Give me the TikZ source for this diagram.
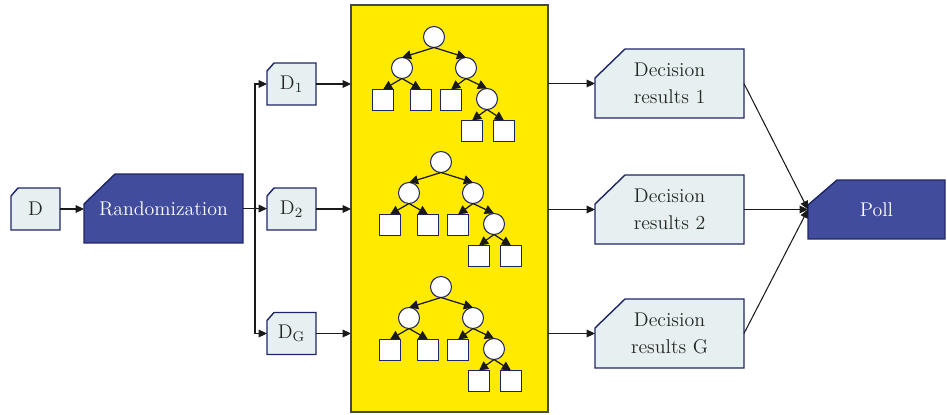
\documentclass[tikz,border=0pt]{standalone}
\usetikzlibrary{arrows.meta,calc,backgrounds}
\definecolor{navy}{HTML}{1E2566}
\definecolor{dfill}{HTML}{414C9C}
\definecolor{lfill}{HTML}{E6F0F0}
\definecolor{ybg}{HTML}{FFEA00}
\definecolor{ink}{HTML}{1A1A1A}
\newcommand\chamf[4]{\begin{pgfonlayer}{background}\filldraw[#4] ($(#1.north west)+(0,#3)$) -- ($(#1.north west)+(#2,0)$) -- (#1.north east) -- (#1.south east) -- (#1.south west) -- cycle;\end{pgfonlayer}}
\begin{document}
\begin{tikzpicture}[x=0.02cm,y=-0.02cm, font=\fontsize{11.3}{15.3}\selectfont,
 arr/.style={draw=ink, line width=0.6pt, -{Triangle[length=4.8pt,width=4.4pt]}},
 ln/.style={draw=ink, line width=0.6pt},
 bx/.style={rectangle, inner sep=0pt, outer sep=0pt, align=center, text=black!85},
 lbox/.style={fill=lfill, draw=navy, line width=0.8pt},
 dbox/.style={fill=dfill, draw=navy, line width=0.8pt},
 tc/.style={circle, draw=navy, fill=white, line width=0.6pt, minimum size=0.42cm, inner sep=0pt, outer sep=0pt},
 ts/.style={rectangle, draw=navy, fill=white, line width=0.6pt, minimum size=0.42cm, inner sep=0pt, outer sep=0pt},
 tarr/.style={draw=ink, line width=0.7pt, -{Triangle[length=5.2pt,width=5.2pt]}},
 tree/.pic={
  \node[tc] (-r) at (0,0) {};
  \node[tc] (-a) at (-32,31) {};
  \node[tc] (-b) at (32,31) {};
  \node[ts] (-s1) at (-51,63) {};
  \node[ts] (-s2) at (-13,63) {};
  \node[ts] (-s3) at (17,63) {};
  \node[tc] (-c) at (53,62) {};
  \node[ts] (-s4) at (38,94) {};
  \node[ts] (-s5) at (70,94) {};
  \draw[tarr] (-r.south) -- (-a.north);
  \draw[tarr] (-r.south) -- (-b.north);
  \draw[tarr] (-a.south) -- (-s1.north);
  \draw[tarr] (-a.south) -- (-s2.north);
  \draw[tarr] (-b.south) -- (-s3.north);
  \draw[tarr] (-b.south) -- (-c.north);
  \draw[tarr] (-c.south) -- (-s4.north);
  \draw[tarr] (-c.south) -- (-s5.north);
 }]
\useasboundingbox (0,0) rectangle (947,415);
% yellow panel
\node[rectangle, fill=ybg, draw=ink!80, line width=0.8pt, minimum width=3.94cm, minimum height=8.14cm, inner sep=0pt, outer sep=0pt] (yel) at (449.5,208.5) {};
% nodes
\node[bx, minimum width=0.98cm, minimum height=0.84cm] (d) at (35.5,209) {D};
\node[bx, text=white, minimum width=3.18cm, minimum height=1.38cm] (rand) at (163.5,208.5) {Randomization};
\node[bx, minimum width=0.98cm, minimum height=0.84cm] (d1) at (291.5,84) {D$_{1}$};
\node[bx, minimum width=0.98cm, minimum height=0.84cm] (d2) at (291.5,209) {D$_{2}$};
\node[bx, minimum width=0.98cm, minimum height=0.84cm] (dg) at (291.5,333.5) {D$_{\mathrm{G}}$};
\node[bx, minimum width=2.98cm, minimum height=1.38cm] (dec1) at (669.5,83.5) {Decision\\results 1};
\node[bx, minimum width=2.98cm, minimum height=1.38cm] (dec2) at (669.5,209.5) {Decision\\results 2};
\node[bx, minimum width=2.98cm, minimum height=1.38cm] (dec3) at (669.5,333.5) {Decision\\results G};
\node[bx, text=white, minimum width=2.74cm, minimum height=1.18cm] (poll) at (876.5,209.5) {Poll};
\chamf{d}{7}{8}{lbox}
\chamf{rand}{31}{30}{dbox}
\chamf{d1}{7}{8}{lbox}
\chamf{d2}{7}{8}{lbox}
\chamf{dg}{7}{8}{lbox}
\chamf{dec1}{30}{29}{lbox}
\chamf{dec2}{30}{29}{lbox}
\chamf{dec3}{30}{29}{lbox}
\chamf{poll}{29}{25}{dbox}
% trees
\pic (t1) at (434,37) {tree};
\pic (t2) at (441,162) {tree};
\pic (t3) at (441,287) {tree};
% connectors
\coordinate (split) at (255,208.5);
\draw[arr] (d) -- (d -| rand.west);
\draw[ln] (rand.east) -- (split);
\draw[arr] (split) |- (d1);
\draw[arr] (split) -- (d2);
\draw[arr] (split) |- (dg);
\draw[arr] (d1) -- (d1 -| yel.west);
\draw[arr] (d2) -- (d2 -| yel.west);
\draw[arr] (dg) -- (dg -| yel.west);
\draw[arr] (dec1 -| yel.east) -- (dec1);
\draw[arr] (dec2 -| yel.east) -- (dec2);
\draw[arr] (dec3 -| yel.east) -- (dec3);
\draw[arr] (dec1.east) -- (poll.west);
\draw[arr] (dec2.east) -- (poll.west);
\draw[arr] (dec3.east) -- (poll.west);
\end{tikzpicture}
\end{document}
